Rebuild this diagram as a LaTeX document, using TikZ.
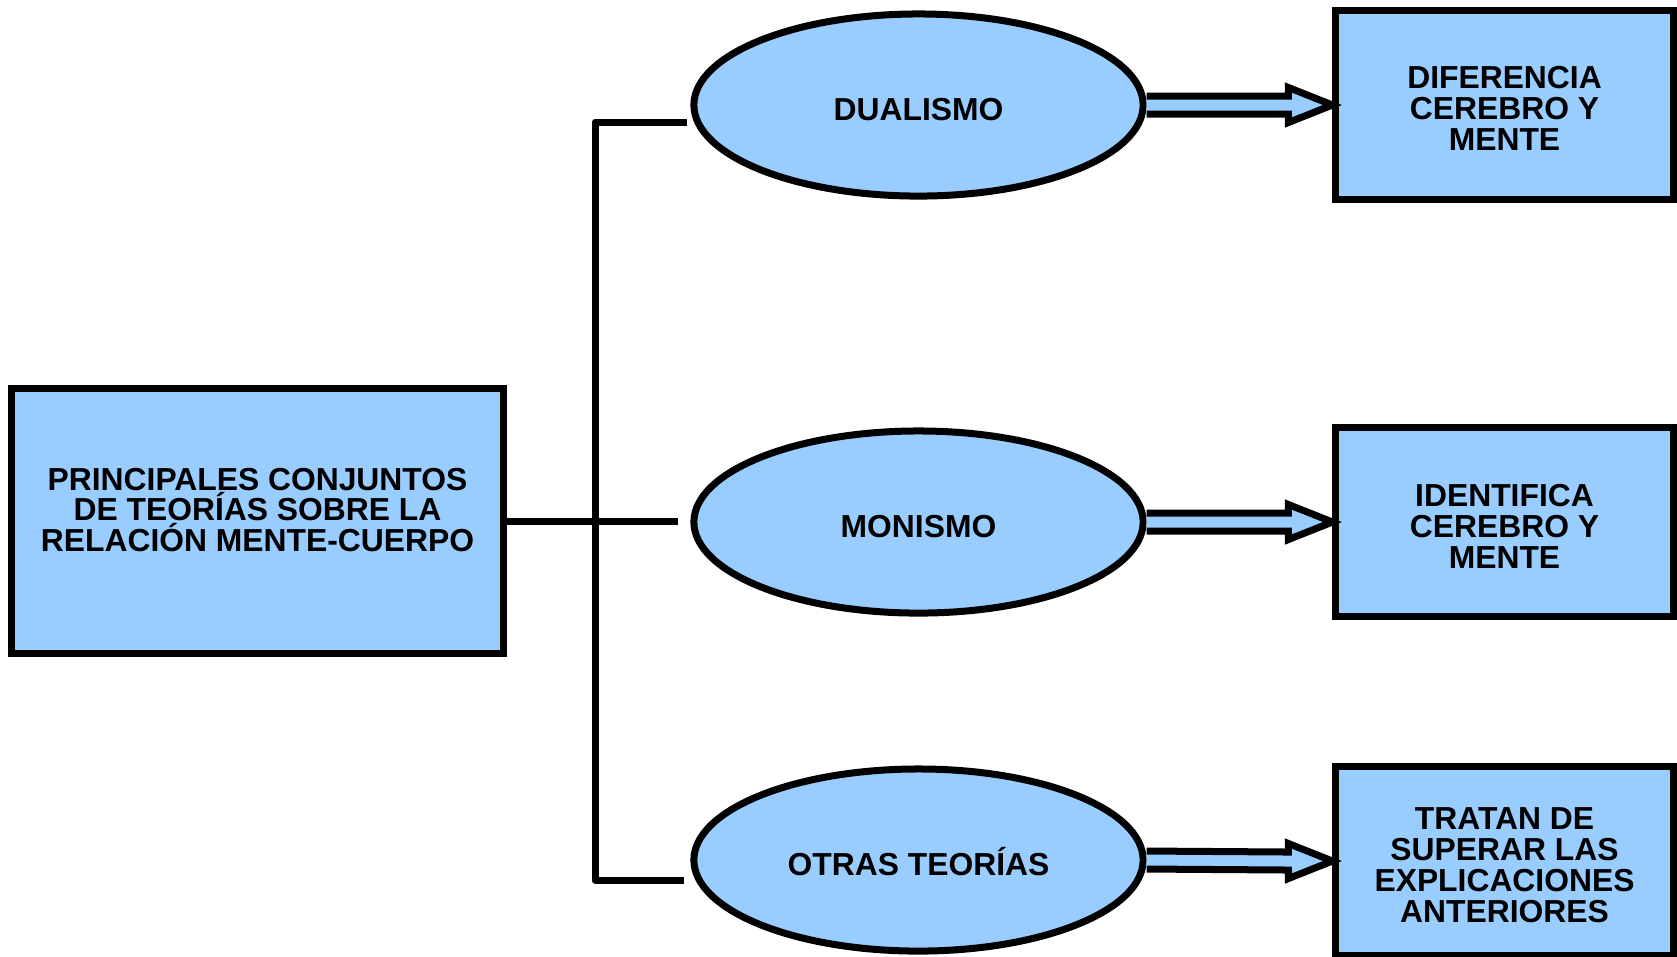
\documentclass[tikz,border=0pt]{standalone}
\usepackage{fontspec}
\setmainfont{Liberation Sans}
\usetikzlibrary{shapes.geometric,calc}
\definecolor{celeste}{RGB}{153,204,255}
\newcommand{\rotulo}[3]{\raisebox{#1}[\height][\depth]{\parbox{#2}{\centering #3}}}

\begin{document}
\begin{tikzpicture}[x=0.01cm, y=-0.01cm, line width=0.07cm,
	letra/.style={font=\bfseries\fontsize{9.05}{8.8}\selectfont},
	caja/.style={draw, rectangle, fill=celeste, letra},
	resultado/.style={caja, minimum width=3.37cm, minimum height=1.88cm},
	teoria/.style={draw, ellipse, fill=celeste, minimum width=4.49cm, minimum height=1.82cm, text height=8.6pt, text depth=0pt, letra},
	flecha/.style={draw, fill=celeste, line join=miter}]
	\useasboundingbox (0,0) rectangle (1677,956);
	\clip (0,0) rectangle (1677,956);

	\draw (257.5, 521) 	node[caja, minimum width=4.91cm, minimum height=2.64cm] 	(tesis) 	{\rotulo{0.11cm}{4.6cm}{PRINCIPALES CONJUNTOS\\ DE TEORÍAS SOBRE LA\\ RELACIÓN MENTE-CUERPO}};
	\draw (918.5, 105) 	node[teoria] 	(dual) 		{DUALISMO};
	\draw (918.5, 522) 	node[teoria] 	(mon) 		{MONISMO};
	\draw (918.5, 860) 	node[teoria] 	(otras) 	{OTRAS TEORÍAS};
	\draw (1504.5, 105) 	node[resultado] 	(dif) 		{\rotulo{-0.035cm}{3cm}{DIFERENCIA\\ CEREBRO Y\\ MENTE}};
	\draw (1504.5, 522) 	node[resultado] 	(ident) 	{\rotulo{-0.04cm}{3cm}{IDENTIFICA\\ CEREBRO Y\\ MENTE}};
	\draw (1504.5, 861) 	node[resultado] 	(superar) 	{\rotulo{-0.045cm}{3cm}{TRATAN DE\\ SUPERAR LAS\\ EXPLICACIONES\\ ANTERIORES}};

	\coordinate (tronco) at (595, 521);
	\coordinate (r1) at (687, 122);
	\coordinate (r2) at (678, 521);
	\coordinate (r3) at (684, 880);

	\draw[line join=round] (r1) -- (r1 -| tronco) -- (r3 -| tronco) -- (r3);
	\draw (tesis.east) -- (r2);

	\draw[flecha] ($(dual.east)+(0,-9)$) -- ($(dif.west)+(-44,-9)$) -- ($(dif.west)+(-44,-17.5)$) -- (dif.west) -- ($(dif.west)+(-44,17.5)$) -- ($(dif.west)+(-44,9)$) -- ($(dual.east)+(0,9)$);
	\draw[flecha] ($(mon.east)+(0,-9)$) -- ($(ident.west)+(-44,-9)$) -- ($(ident.west)+(-44,-17.5)$) -- (ident.west) -- ($(ident.west)+(-44,17.5)$) -- ($(ident.west)+(-44,9)$) -- ($(mon.east)+(0,9)$);
	\draw[flecha] ($(otras.east)+(0,-9)$) -- ($(superar.west)+(-44,-9)$) -- ($(superar.west)+(-44,-17.5)$) -- (superar.west) -- ($(superar.west)+(-44,17.5)$) -- ($(superar.west)+(-44,9)$) -- ($(otras.east)+(0,9)$);
\end{tikzpicture}
\end{document}
